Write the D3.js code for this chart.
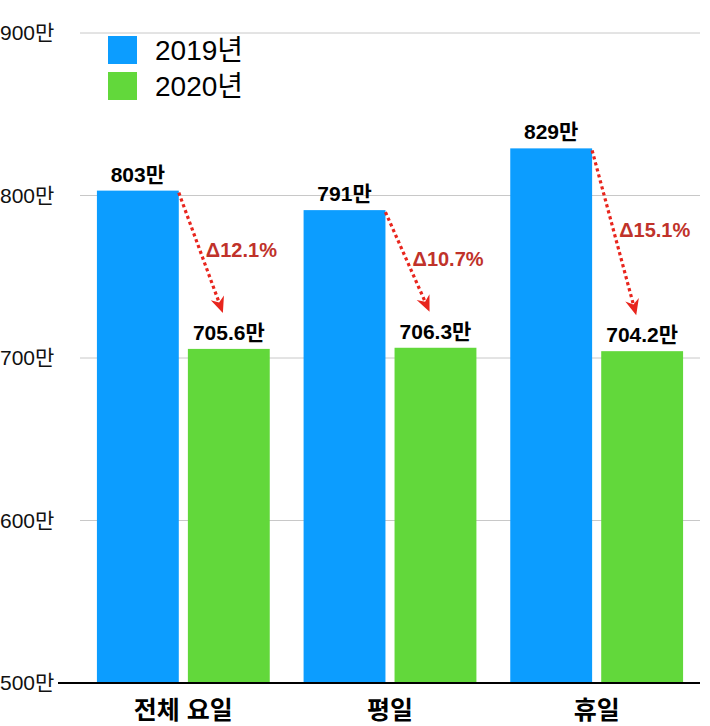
<!DOCTYPE html>
<html>
<head>
<meta charset="utf-8">
<script src="https://cdn.jsdelivr.net/npm/d3@7"></script>
<style>
  body { margin: 0; background: #fff; }
  svg { display: block; font-family: "Liberation Sans", "Noto Sans CJK KR", sans-serif; }
</style>
</head>
<body>
<svg width="710" height="726"></svg>
<script>
const categories = ["전체 요일", "평일", "휴일"];
const series = ["2019년", "2020년"];
const values2019 = [803, 791, 829];
const values2020 = [705.6, 706.3, 704.2];
const yTicks = [500, 600, 700, 800, 900];
const colors = ["#0c9dff", "#62d83b"];

const svg = d3.select("svg");

const x0 = d3.scaleBand().domain(categories).range([80, 700]);
const x1 = d3.scaleBand().domain(series).range([0, x0.bandwidth()])
  .paddingInner(0.1).paddingOuter(0.186);
const y = d3.scaleLinear().domain([500, 900]).range([683, 33]);

// grid
svg.selectAll("line.grid")
  .data(yTicks.slice(1))
  .enter()
  .append("line")
  .attr("x1", 80).attr("x2", 700)
  .attr("y1", d => y(d)).attr("y2", d => y(d))
  .attr("stroke", "#c8c8c8")
  .attr("stroke-width", 1);

// tick labels
svg.selectAll("text.tick")
  .data(yTicks)
  .enter()
  .append("text")
  .attr("x", 0)
  .attr("y", d => y(d))
  .attr("dy", "0.35em")
  .attr("font-size", "21px")
  .attr("fill", "#111")
  .text(d => d + "만");

const rows = categories.map((c, i) => ({ cat: c, vals: [values2019[i], values2020[i]] }));

const group = svg.selectAll("g.group")
  .data(rows)
  .enter()
  .append("g")
  .attr("transform", d => `translate(${x0(d.cat)},0)`);

group.selectAll("rect")
  .data(d => d.vals.map((v, j) => ({ s: series[j], v, j })))
  .enter()
  .append("rect")
  .attr("x", d => x1(d.s))
  .attr("y", d => y(d.v))
  .attr("width", x1.bandwidth())
  .attr("height", d => y(500) - y(d.v))
  .attr("fill", d => colors[d.j]);

group.selectAll("text.val")
  .data(d => d.vals.map((v, j) => ({ s: series[j], v, j })))
  .enter()
  .append("text")
  .attr("x", d => x1(d.s) + x1.bandwidth() / 2)
  .attr("y", d => y(d.v) - 9)
  .attr("text-anchor", "middle")
  .attr("font-size", "21px")
  .attr("font-weight", "bold")
  .attr("fill", "#000")
  .text(d => d.v + "만");

// arrows: dotted line from the 2019 bar corner down to the 2020 label
rows.forEach(r => {
  const bx = x0(r.cat) + x1(series[0]) + x1.bandwidth();
  const by = y(r.vals[0]) + 2;
  const tx = x0(r.cat) + x1(series[1]) + 35;
  const ty = y(r.vals[1]) - 36;
  const ang = Math.atan2(ty - by, tx - bx);
  svg.append("line")
    .attr("x1", bx).attr("y1", by)
    .attr("x2", tx - Math.cos(ang) * 12).attr("y2", ty - Math.sin(ang) * 12)
    .attr("stroke", "#e8251d")
    .attr("stroke-width", 3.2)
    .attr("stroke-dasharray", "3.2,3");
  svg.append("path")
    .attr("d", "M-7,-16 L0,-11 L7,-16 L0,0 Z")
    .attr("transform", `translate(${tx},${ty}) rotate(${ang * 180 / Math.PI - 90})`)
    .attr("fill", "#e8251d");
  const pct = ((r.vals[0] - r.vals[1]) / r.vals[0] * 100).toFixed(1);
  svg.append("text")
    .attr("x", (bx + tx) / 2 + 5)
    .attr("y", (by + ty) / 2 - 3)
    .attr("dy", "0.35em")
    .attr("font-size", "20px")
    .attr("font-weight", "bold")
    .attr("fill", "#c0322a")
    .text("Δ" + pct + "%");
});

// baseline
svg.append("line")
  .attr("x1", 58).attr("x2", 700)
  .attr("y1", y(500)).attr("y2", y(500))
  .attr("stroke", "#000")
  .attr("stroke-width", 2);

// category labels
svg.selectAll("text.cat")
  .data(categories)
  .enter()
  .append("text")
  .attr("x", d => x0(d) + x0.bandwidth() / 2)
  .attr("y", 719)
  .attr("text-anchor", "middle")
  .attr("font-size", "25px")
  .attr("font-weight", "bold")
  .attr("fill", "#000")
  .text(d => d);

// legend
const legend = svg.selectAll("g.legend")
  .data(series)
  .enter()
  .append("g")
  .attr("transform", (d, i) => `translate(108,${36 + i * 36})`);
legend.append("rect")
  .attr("width", 29).attr("height", 28)
  .attr("fill", (d, i) => colors[i]);
legend.append("text")
  .attr("x", 47).attr("y", 14)
  .attr("dy", "0.35em")
  .attr("font-size", "28px")
  .attr("fill", "#000")
  .text(d => d);
</script>
</body>
</html>
